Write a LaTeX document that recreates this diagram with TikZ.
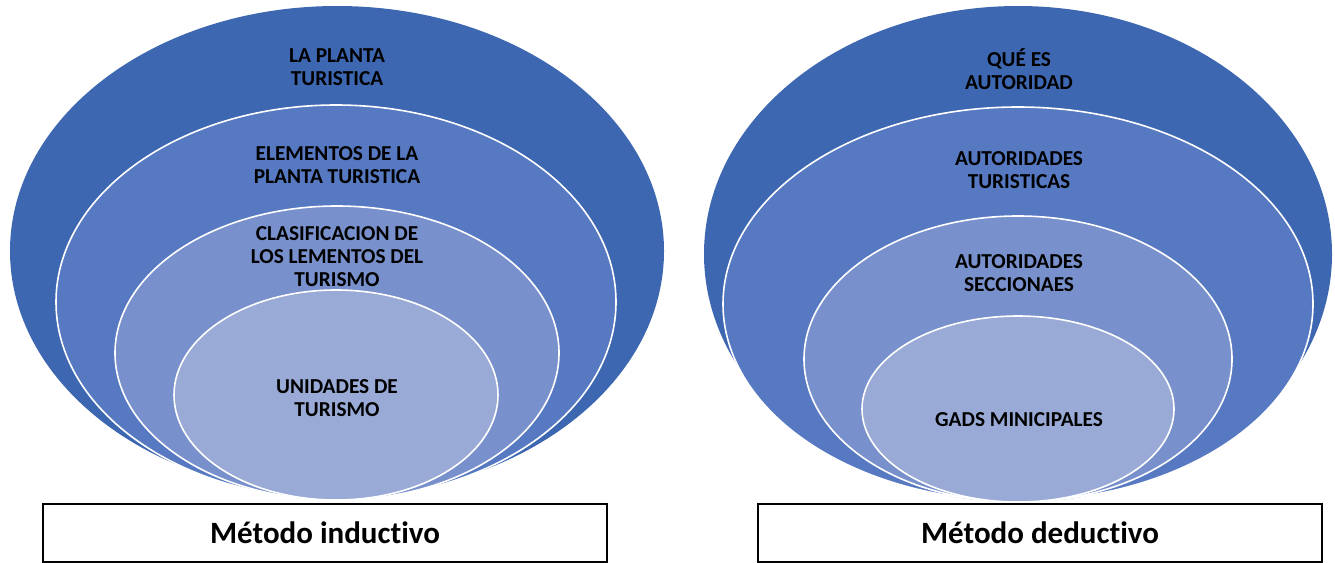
\documentclass[tikz,border=0pt]{standalone}
\usepackage{fontspec}
\setmainfont{Carlito}[Ligatures=NoCommon]
\usepackage{xcolor}
\usepackage{tikz}
\usetikzlibrary{shapes,positioning}
\definecolor{lvlA}{HTML}{3D67B1}
\definecolor{lvlB}{HTML}{5679C1}
\definecolor{lvlC}{HTML}{7890CB}
\definecolor{lvlD}{HTML}{99AAD6}
\tikzset{ring/.style={ellipse,draw=white,line width=1.6pt,inner sep=0pt,outer sep=0pt},
lbl/.style={align=center,inner sep=0pt,font=\fontsize{21.3}{23}\selectfont\bfseries},
mbox/.style={draw=black,line width=1.2pt,fill=white,minimum width=564pt,minimum height=58pt,font=\fontsize{31}{36}\selectfont\bfseries}}

\begin{document}
\begin{tikzpicture}[x=1pt,y=-1pt]
        \useasboundingbox (0,0) rectangle (1335,562);
        % inductive target
		\node[ring,fill=lvlA,draw=none,minimum width=654pt,minimum height=490pt] (ia) at (337,251) {};
        \node[ring,fill=lvlB,minimum width=560pt,minimum height=394pt] (ib) at (336,302) {};
        \node[ring,fill=lvlC,minimum width=444pt,minimum height=294pt] (ic) at (337,353) {};
        \node[ring,fill=lvlD,minimum width=324pt,minimum height=210pt] (id) at (336,395) {};
        \node[lbl] (la) at (337,67) {LA PLANTA\\TURISTICA};
        \node[lbl] (lb) at (337,165) {ELEMENTOS DE LA\\PLANTA TURISTICA};
        \node[lbl] (lc) at (337,257) {CLASIFICACION DE\\LOS LEMENTOS DEL\\TURISMO};
        \node[lbl] (ld) at (337,398.5) {UNIDADES DE\\TURISMO};
        \node[mbox] (ind) at (325,533) {Método inductivo};

        % deductive target
		\node[ring,fill=lvlA,draw=none,minimum width=628pt,minimum height=496pt] (da) at (1018,254) {};
        \node[ring,fill=lvlB,minimum width=590pt,minimum height=394pt] (db) at (1018,304) {};
        \node[ring,fill=lvlC,minimum width=428pt,minimum height=286pt] (dc) at (1018,359) {};
        \node[ring,fill=lvlD,minimum width=312pt,minimum height=186pt] (dd) at (1018,409) {};
        \node[lbl] (ma) at (1019,69) {QUÉ ES\\AUTORIDAD};
        \node[lbl] (mb) at (1019,170) {AUTORIDADES\\TURISTICAS};
        \node[lbl] (mc) at (1019,273) {AUTORIDADES\\SECCIONAES};
        \node[lbl] (md) at (1019,420) {GADS MINICIPALES};
        \node[mbox] (ded) at (1040,533) {Método deductivo};
    \end{tikzpicture}
\end{document}
